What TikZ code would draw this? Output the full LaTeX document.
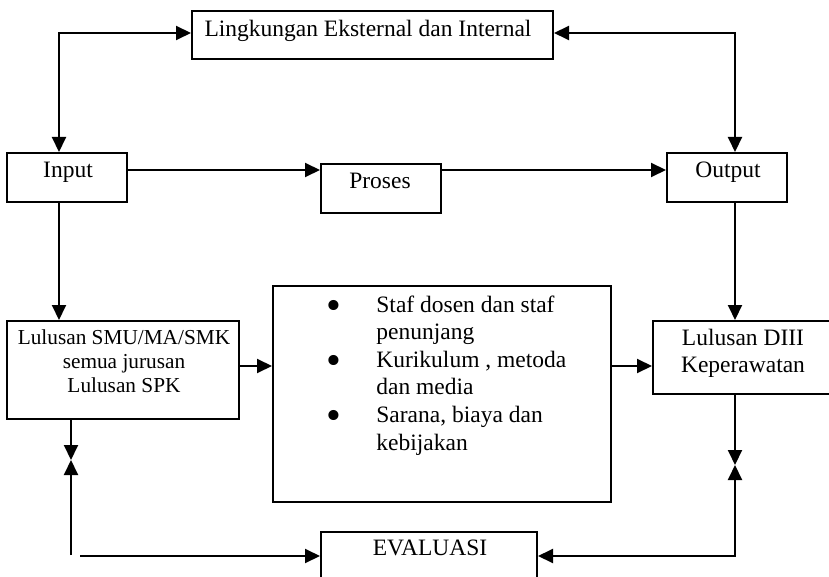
\documentclass[tikz,border=0pt]{standalone}
\usepackage{graphicx}
\usepackage{fontspec}
\setmainfont{Liberation Serif}
\usetikzlibrary{arrows.meta,fit}
\newcommand{\bigbul}{\raisebox{-3.5pt}{\scalebox{1.8}{\textbullet}}}

\begin{document}
\begin{tikzpicture}
      [x=0.5pt,y=-0.5pt,line join=miter,
     %boxes, texts and arrows
     box/.style={draw,line width=1pt,inner sep=0pt},
     txt/.style={inner sep=0pt,font=\fontsize{11.75}{13.8}\selectfont},
     arr/.style={line width=1pt,-{Triangle[length=7.5pt,width=7pt]}},
     dbl/.style={line width=1pt,{Triangle[length=7.5pt,width=7pt]}-{Triangle[length=7.5pt,width=7pt]}}]

%page frame
  \path[use as bounding box,clip] (0,0) rectangle (829,577);

%creating the boxes
  \node[box,fit={(192,11) (553,59)}] (env) {};
  \node[box,fit={(7,153) (127,202)}] (input) {};
  \node[box,fit={(321,164) (441,213)}] (proses) {};
  \node[box,fit={(667,153) (787,202)}] (output) {};
  \node[box,fit={(7,321) (239,419)}] (smu) {};
  \node[box,fit={(273,286) (611,502)}] (mid) {};
  \node[box,fit={(653,321) (835,394)}] (diii) {};
  \node[box,fit={(321,532) (537,581)}] (evaluasi) {};

%the texts
  \node[txt,anchor=base] (envtxt) at (368,37) {Lingkungan Eksternal dan Internal};
  \node[txt,anchor=base] (inputtxt) at (68,178) {Input};
  \node[txt,anchor=base] (prosestxt) at (380,189) {Proses};
  \node[txt,anchor=base] (outputtxt) at (728,178) {Output};
  \node[txt,anchor=base,font=\fontsize{10.65}{12}\selectfont] (smutxt) at (124,344)
   {\begin{tabular}[t]{@{}c@{}}Lulusan SMU/MA/SMK\\semua jurusan\\Lulusan SPK\end{tabular}};
  \node[txt,anchor=base west] (midtxt) at (326,312)
   {\begin{tabular}[t]{@{}p{25pt}@{}l@{}}
     \bigbul & Staf dosen dan staf\\
             & penunjang\\
     \bigbul & Kurikulum , metoda\\
             & dan media\\
     \bigbul & Sarana, biaya dan\\
             & kebijakan
    \end{tabular}};
  \node[txt,anchor=base,font=\fontsize{11.75}{13.5}\selectfont] (diiitxt) at (743,345)
   {\begin{tabular}[t]{@{}c@{}}Lulusan DIII\\Keperawatan\end{tabular}};
  \node[txt,anchor=base] (evaluasitxt) at (430,555) {EVALUASI};

%lanes for the connectors
  \coordinate (top) at (0,33);
  \coordinate (lane) at (0,170);
  \coordinate (row) at (0,366);
  \coordinate (colL) at (59,0);
  \coordinate (colR) at (735,0);
  \coordinate (colE) at (71,0);
  \coordinate (meetL) at (71,460);
  \coordinate (meetR) at (735,465);
  \coordinate (botL) at (71,555);
  \coordinate (botE) at (80,556);

%connectors
  \draw[dbl] (top -| env.west) -| (colL |- input.north);
  \draw[dbl] (top -| env.east) -| (colR |- output.north);
  \draw[arr] (lane -| input.east) -- (lane -| proses.west);
  \draw[arr] (lane -| proses.east) -- (lane -| output.west);
  \draw[arr] (colL |- input.south) -- (colL |- smu.north);
  \draw[arr] (colR |- output.south) -- (colR |- diii.north);
  \draw[arr] (row -| smu.east) -- (row -| mid.west);
  \draw[arr] (row -| mid.east) -- (row -| diii.west);
  \draw[arr] (colE |- smu.south) -- (meetL);
  \draw[arr] (botL) -- (meetL);
  \draw[arr] (botE) -- (botE -| evaluasi.west);
  \draw[arr] (colR |- diii.south) -- (meetR);
  \draw[dbl] (botE -| evaluasi.east) -| (meetR);
\end{tikzpicture}
\end{document}
